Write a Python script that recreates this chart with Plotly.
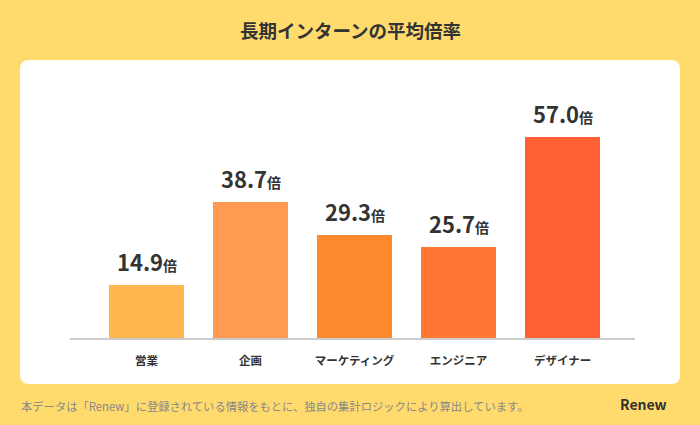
import plotly.graph_objects as go

categories = ["営業", "企画", "マーケティング", "エンジニア", "デザイナー"]
values = [14.9, 38.7, 29.3, 25.7, 57.0]
bar_colors = ["#FFB74D", "#FF9A52", "#FF8A2E", "#FF7732", "#FF5F32"]
title_text = "長期インターンの平均倍率"
footer_text = "本データは「Renew」に登録されている情報をもとに、独自の集計ロジックにより算出しています。"
unit = "倍"

FONT = "Noto Sans CJK JP"
W, H = 700, 425
ml, mr, mt, mb = 70, 65, 100, 87
pw, ph = W - ml - mr, H - mt - mb

def px(x):
    return (x - ml) / pw

def py(y):
    return (H - mb - y) / ph

fig = go.Figure()
fig.add_trace(go.Bar(
    x=list(range(len(categories))), y=values,
    marker=dict(color=bar_colors, line=dict(width=0)),
    width=0.72, hoverinfo="skip",
))

for i, v in enumerate(values):
    fig.add_annotation(
        x=i, y=v, xref="x", yref="y", yanchor="bottom", yshift=6,
        text=f"{v:.1f}<span style='font-size:14px'>{unit}</span>",
        showarrow=False, font=dict(family=FONT, size=22, color="#333333", weight="bold"),
    )

# rounded white card
x0, x1, y0, y1, r = 20, 680, 60, 384, 9
path = (f"M {px(x0+r)},{py(y0)} L {px(x1-r)},{py(y0)} Q {px(x1)},{py(y0)} {px(x1)},{py(y0+r)} "
        f"L {px(x1)},{py(y1-r)} Q {px(x1)},{py(y1)} {px(x1-r)},{py(y1)} "
        f"L {px(x0+r)},{py(y1)} Q {px(x0)},{py(y1)} {px(x0)},{py(y1-r)} "
        f"L {px(x0)},{py(y0+r)} Q {px(x0)},{py(y0)} {px(x0+r)},{py(y0)} Z")
fig.add_shape(type="path", path=path, xref="paper", yref="paper",
              fillcolor="#FFFFFF", line=dict(width=0), layer="below")

fig.add_annotation(x=px(350), y=py(30), xref="paper", yref="paper", xanchor="center", yanchor="middle",
                   text=title_text, showarrow=False,
                   font=dict(family=FONT, size=18.5, color="#333333", weight="bold"))
fig.add_annotation(x=px(19), y=py(406), xref="paper", yref="paper", xanchor="left", yanchor="middle",
                   text=footer_text, showarrow=False,
                   font=dict(family=FONT, size=11.3, color="#888888"))
fig.add_annotation(x=px(669), y=py(404), xref="paper", yref="paper", xanchor="right", yanchor="middle",
                   text="Renew", showarrow=False,
                   font=dict(family=FONT, size=14, color="#333333", weight="bold"))

fig.update_layout(
    width=W, height=H,
    margin=dict(l=ml, r=mr, t=mt, b=mb, pad=0),
    paper_bgcolor="#FFDB6E", plot_bgcolor="rgba(0,0,0,0)",
    showlegend=False, bargap=0,
    xaxis=dict(
        range=[-0.736, 4.697], tickmode="array", tickvals=list(range(len(categories))),
        ticktext=categories, showgrid=False, zeroline=False,
        showline=True, linecolor="#CCCCCC", linewidth=1.5,
        ticks="", ticklabelstandoff=11,
        tickfont=dict(family=FONT, size=11.5, color="#333333", weight="bold"),
        fixedrange=True,
    ),
    yaxis=dict(range=[0, 67.5], visible=False, fixedrange=True),
)

fig.write_html("out.html")
